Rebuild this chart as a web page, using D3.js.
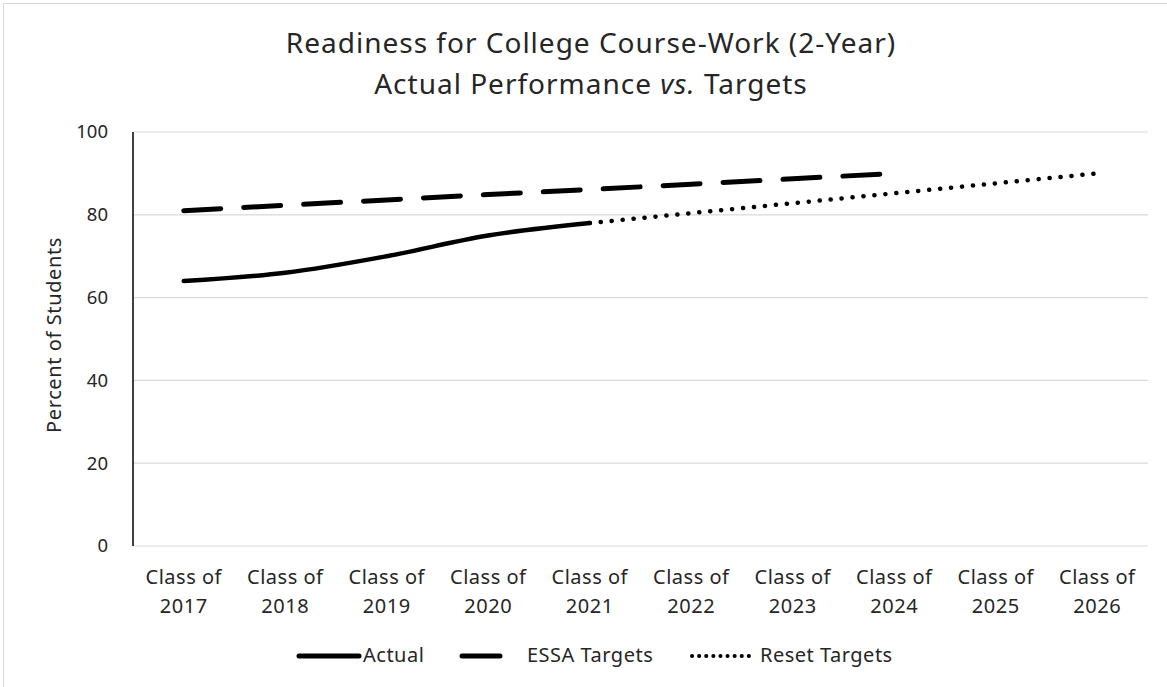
<!DOCTYPE html>
<html>
<head>
<meta charset="utf-8">
<script src="https://cdn.jsdelivr.net/npm/d3@7"></script>
<style>
  body { margin: 0; background: #fff; }
  text { font-family: "Noto Sans", "Open Sans", sans-serif; fill: #262626; }
</style>
</head>
<body>
<div id="chart"></div>
<script>
// chart values
var classes = ["2017", "2018", "2019", "2020", "2021", "2022", "2023", "2024", "2025", "2026"];
var actual = [64, 66, 70, 75, 78];
var essa_targets = [81, 82.3, 83.6, 84.9, 86.1, 87.4, 88.7, 90];
var reset_targets = [null, null, null, null, 78, 80.4, 82.8, 85.2, 87.6, 90];
var y_ticks = [0, 20, 40, 60, 80, 100];

var width = 1167, height = 687,
    margins = {top: 132, right: 19, bottom: 141, left: 133},
    plot_w = width - margins.left - margins.right,
    plot_h = height - margins.top - margins.bottom;

var svg = d3.select("#chart").append("svg")
    .attr("width", width)
    .attr("height", height);

// outer chart border
svg.append("rect")
    .attr("x", 3.5).attr("y", 3.5)
    .attr("width", width + 10).attr("height", height + 10)
    .attr("fill", "none")
    .attr("stroke", "#d9d9d9");

// title
var title = svg.append("text")
    .attr("text-anchor", "middle")
    .style("font-size", "28px")
    .style("letter-spacing", "1px");
title.append("tspan")
    .attr("x", 591).attr("y", 53)
    .text("Readiness for College Course-Work (2-Year)");
var t2 = title.append("tspan")
    .attr("x", 591).attr("y", 94);
t2.append("tspan").text("Actual Performance ");
t2.append("tspan").style("font-style", "italic").text("vs.");
t2.append("tspan").text(" Targets");

var g = svg.append("g")
    .attr("transform", "translate(" + margins.left + "," + margins.top + ")");

var x = d3.scaleBand()
    .domain(classes)
    .range([0, plot_w]);

var y = d3.scaleLinear()
    .domain([0, 100])
    .range([plot_h, 0]);

// gridlines
g.append("g")
    .selectAll("line")
    .data(y_ticks)
    .enter().append("line")
    .attr("x1", 0).attr("x2", plot_w)
    .attr("y1", function(d) { return y(d); })
    .attr("y2", function(d) { return y(d); })
    .attr("stroke", "#d9d9d9")
    .attr("stroke-width", 1.2);

// y axis
var yAxis = d3.axisLeft(y)
    .tickValues(y_ticks)
    .tickSize(0)
    .tickPadding(25);

var ya = g.append("g").call(yAxis);
ya.select(".domain").remove();
ya.selectAll("text")
    .style("font-size", "18.5px")
    .style("font-family", "\"Noto Sans\", sans-serif")
    .attr("fill", "#262626");

g.append("line")
    .attr("x1", 0).attr("x2", 0)
    .attr("y1", 0).attr("y2", plot_h)
    .attr("stroke", "#000")
    .attr("stroke-width", 1.5);

// x axis labels
var xl = g.append("g")
    .selectAll("text")
    .data(classes)
    .enter().append("text")
    .attr("text-anchor", "middle")
    .style("font-size", "20px")
    .style("letter-spacing", "0.5px");
xl.append("tspan")
    .attr("x", function(d) { return x(d) + x.bandwidth() / 2; })
    .attr("y", plot_h + 38)
    .text("Class of");
xl.append("tspan")
    .attr("x", function(d) { return x(d) + x.bandwidth() / 2; })
    .attr("y", plot_h + 67)
    .text(function(d) { return d; });

// y axis title
svg.append("text")
    .attr("transform", "translate(53,335) rotate(-90)")
    .attr("text-anchor", "middle")
    .attr("dominant-baseline", "central")
    .style("font-size", "20px")
    .style("letter-spacing", "0.6px")
    .text("Percent of Students");

// lines
function make_line(values, curve) {
    return d3.line()
        .defined(function(d) { return d != null; })
        .x(function(d, i) { return x(classes[i]) + x.bandwidth() / 2; })
        .y(function(d) { return y(d); })
        .curve(curve)(values);
}

g.append("path")
    .attr("d", make_line(reset_targets, d3.curveLinear))
    .attr("fill", "none")
    .attr("stroke", "#000")
    .attr("stroke-width", 4.5)
    .attr("stroke-linecap", "round")
    .attr("stroke-dasharray", "0.1,10.9");

g.append("path")
    .attr("d", make_line(essa_targets, d3.curveLinear))
    .attr("fill", "none")
    .attr("stroke", "#000")
    .attr("stroke-width", 5)
    .attr("stroke-linecap", "round")
    .attr("stroke-dasharray", "37,23");

g.append("path")
    .attr("d", make_line(actual, d3.curveCatmullRom))
    .attr("fill", "none")
    .attr("stroke", "#000")
    .attr("stroke-width", 4.5)
    .attr("stroke-linecap", "round");

// legend
var legend_y = 656;
var legend = [
    {name: "Actual", x1: 299, x2: 359, tx: 363, dash: null, w: 5},
    {name: "ESSA Targets", x1: 462, x2: 500, tx: 527, dash: "38,100", w: 5},
    {name: "Reset Targets", x1: 692, x2: 754, tx: 760, dash: "0.1,7", w: 4}
];

var lg = svg.append("g").selectAll("g")
    .data(legend)
    .enter().append("g");

lg.append("line")
    .attr("x1", function(d) { return d.x1; })
    .attr("x2", function(d) { return d.x2; })
    .attr("y1", legend_y).attr("y2", legend_y)
    .attr("stroke", "#000")
    .attr("stroke-width", function(d) { return d.w; })
    .attr("stroke-linecap", "round")
    .attr("stroke-dasharray", function(d) { return d.dash; });

lg.append("text")
    .attr("x", function(d) { return d.tx; })
    .attr("y", legend_y + 6)
    .style("font-size", "20px")
    .style("letter-spacing", "0.5px")
    .text(function(d) { return d.name; });
</script>
</body>
</html>
